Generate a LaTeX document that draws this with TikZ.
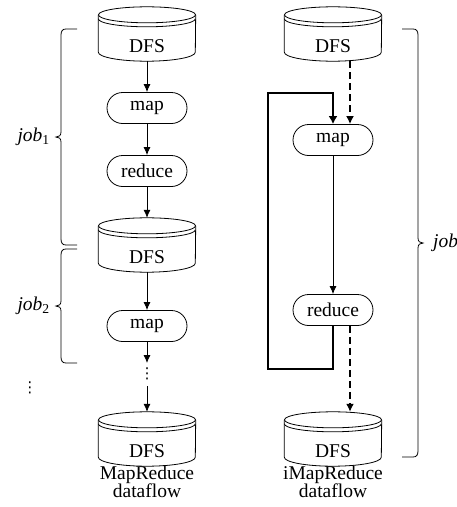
\documentclass[tikz,border=0pt]{standalone}
\usepackage{fontspec}
\setmainfont{Liberation Serif}
\newfontfamily\dotsfont{DejaVu Sans}
\usetikzlibrary{shapes.misc,arrows.meta,calc}

% cylinder outline around a store node
\newcommand\cylinder[1]{%
  \draw[edge] ([yshift=-8pt]#1.north) ellipse [x radius=48.5, y radius=8];
  \draw[edge] ([yshift=-12pt]#1.north west) arc [start angle=180, end angle=0, x radius=48.5, y radius=8];
  \draw[edge] ([yshift=-8pt]#1.north west) -- ([yshift=9pt]#1.south west)
    arc [start angle=180, end angle=0, x radius=48.5, y radius=9]
    -- ([yshift=-8pt]#1.north east);
}
% brace opening to the right: spine x, top y, bottom y
\newcommand\bracel[3]{%
  \draw[edge] ({#1+16},#2) -- ({#1+5},#2) .. controls ({#1+1.5},#2) and (#1,{#2+2}) .. (#1,{#2+6})
    -- (#1,{(#2+#3)/2-5}) .. controls (#1,{(#2+#3)/2-1.5}) and ({#1-2},{(#2+#3)/2}) .. ({#1-5},{(#2+#3)/2})
    .. controls ({#1-2},{(#2+#3)/2}) and (#1,{(#2+#3)/2+1.5}) .. (#1,{(#2+#3)/2+5})
    -- (#1,{#3-6}) .. controls (#1,{#3-2}) and ({#1+1.5},#3) .. ({#1+5},#3) -- ({#1+16},#3);
}
% brace opening to the left: spine x, top y, bottom y
\newcommand\bracer[3]{%
  \draw[edge] ({#1-16},#2) -- ({#1-5},#2) .. controls ({#1-1.5},#2) and (#1,{#2+2}) .. (#1,{#2+6})
    -- (#1,{(#2+#3)/2-5}) .. controls (#1,{(#2+#3)/2-1.5}) and ({#1+2},{(#2+#3)/2}) .. ({#1+5},{(#2+#3)/2})
    .. controls ({#1+2},{(#2+#3)/2}) and (#1,{(#2+#3)/2+1.5}) .. (#1,{(#2+#3)/2+5})
    -- (#1,{#3-6}) .. controls (#1,{#3-2}) and ({#1-1.5},#3) .. ({#1-5},#3) -- ({#1-16},#3);
}

\begin{document}
\begin{tikzpicture}[x=1pt,y=-1pt,
  every node/.style={font=\fontsize{19.5}{18}\selectfont},
  edge/.style={line width=0.8pt},
  proc/.style={rounded rectangle, draw, line width=0.8pt, minimum width=80pt,
    minimum height=31pt, inner sep=0pt},
  store/.style={minimum width=97pt, minimum height=54pt, inner xsep=0pt, inner ysep=0pt,
    text height=45.5pt, text depth=8.5pt},
  vdot/.style={inner sep=0pt, font=\dotsfont\fontsize{15}{15}\selectfont},
  flow/.style={line width=0.8pt, -{Latex[length=8pt,width=7pt]}},
  dflow/.style={line width=2pt, dash pattern=on 7pt off 4pt, -{Latex[length=8pt,width=8pt]}},
  fback/.style={line width=2.4pt, -{Latex[length=8pt,width=9pt]}},
]
\useasboundingbox (0,0) rectangle (457,507);

% ---------- MapReduce dataflow ----------
\node[store] (d1) at (147,34) {DFS};
\node[proc]  (m1) at (147,108) {map};
\node[proc]  (r1) at (147,171) {reduce};
\node[store] (d2) at (147,245) {DFS};
\node[proc]  (m2) at (147,326) {map};
\node[vdot]  (dots) at (147,374) {⋮};
\node[store] (d3) at (147,439) {DFS};
\cylinder{d1}\cylinder{d2}\cylinder{d3}

\coordinate (gapA) at (147,363);
\coordinate (gapB) at (147,386);
\draw[flow] (d1.south) -- (m1.north);
\draw[flow] (m1.south) -- (r1.north);
\draw[flow] (r1.south) -- (d2.north);
\draw[flow] (d2.south) -- (m2.north);
\draw[flow] (m2.south) -- (gapA);
\draw[flow] (gapB) -- (d3.north);

\node[align=center, inner sep=0pt] (capL) at (147,482) {MapReduce\\dataflow};

% job braces
\bracel{61}{29}{245}
\bracel{61}{249}{363}
\node[anchor=east, inner sep=0pt] (job1) at (50,137) {\textit{job}\textsubscript{1}};
\node[anchor=east, inner sep=0pt] (job2) at (50,306) {\textit{job}\textsubscript{2}};
\node[vdot] (vdl) at (30,388) {⋮};

% ---------- iMapReduce dataflow ----------
\node[store] (e1) at (333,34) {DFS};
\node[proc]  (mr) at (333,140) {map};
\node[proc]  (rr) at (333,310) {reduce};
\node[store] (e2) at (333,439) {DFS};
\cylinder{e1}\cylinder{e2}

\draw[dflow] ([xshift=17pt]e1.south) -- ([xshift=17pt]mr.north);
\draw[flow] (mr.south) -- (rr.north);
\draw[dflow] ([xshift=17pt]rr.south) -- ([xshift=17pt]e2.north);

\coordinate (loopbl) at (268,369);
\coordinate (looptl) at (268,93);
\draw[fback] (rr.south) |- (loopbl) -- (looptl) -| (mr.north);

\node[align=center, inner sep=0pt] (capR) at (333,482) {iMapReduce\\dataflow};

\bracer{418}{29}{457}
\node[anchor=west, inner sep=0pt] (job3) at (433,243) {\textit{job}};
\end{tikzpicture}
\end{document}
